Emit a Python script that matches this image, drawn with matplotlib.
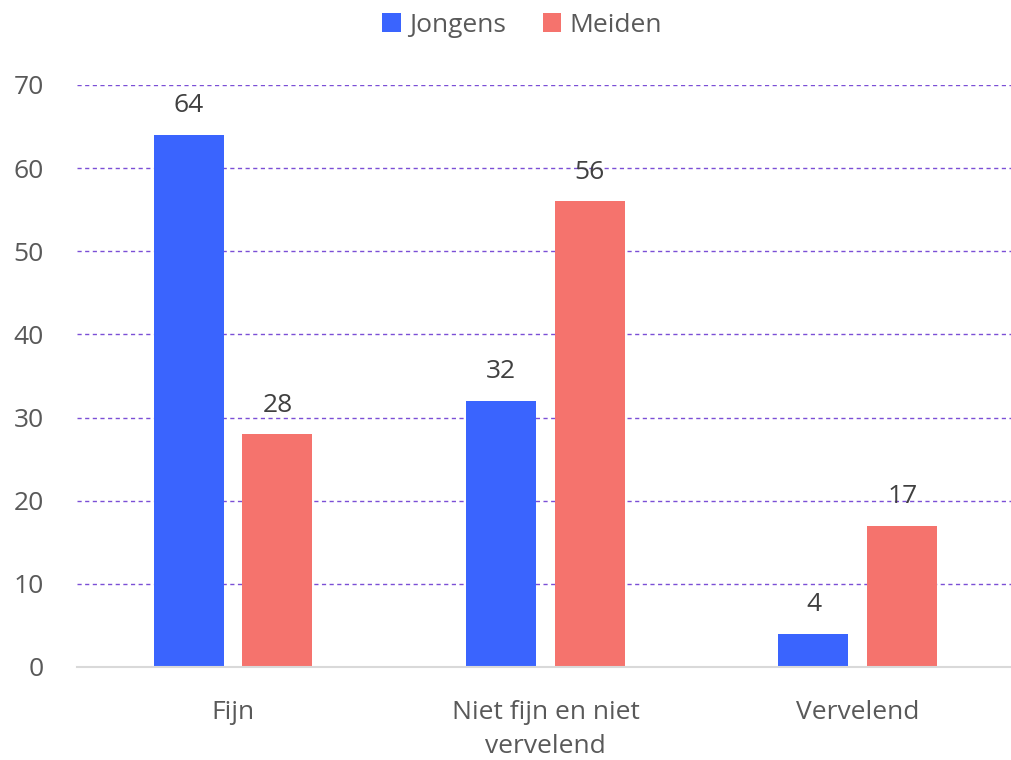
import matplotlib.pyplot as plt
import numpy as np

categories = ['Fijn', 'Niet fijn en niet\nvervelend', 'Vervelend']
jongens = [64, 32, 4]
meiden = [28, 56, 17]
yticks = [0, 10, 20, 30, 40, 50, 60, 70]

plt.rcParams['font.family'] = ['Open Sans', 'DejaVu Sans']
tc = '#595959'

fig = plt.figure(figsize=(10.12, 7.6), dpi=100)
ax = fig.add_axes([0.076, 0.1224, 0.926, 0.7658])

x = np.arange(len(categories))
w = 0.224
b1 = ax.bar(x - 0.142, jongens, w, color='#3A64FE', label='Jongens', zorder=3)
b2 = ax.bar(x + 0.142, meiden, w, color='#F5736D', label='Meiden', zorder=3)

for bars in (b1, b2):
    for r in bars:
        ax.text(r.get_x() + r.get_width() / 2, r.get_height() + 2.0, str(int(r.get_height())),
                ha='center', va='bottom', fontsize=19, color='#404040')

ax.set_xlim(-0.5, 2.5)
ax.set_ylim(0, 70)
ax.set_yticks(yticks)
ax.set_xticks(x)
ax.set_xticklabels(categories, fontsize=19, color=tc, linespacing=1.45)
ax.tick_params(axis='y', labelsize=19, labelcolor=tc, length=0, pad=24)
ax.tick_params(axis='x', length=0, pad=24)

ax.yaxis.grid(True, color='#7B4FD6', linestyle=(0, (3, 2.5)), linewidth=1.0, zorder=0)
for s in ['top', 'right', 'left']:
    ax.spines[s].set_visible(False)
ax.spines['bottom'].set_color('#D9D9D9')
ax.spines['bottom'].set_linewidth(1.5)
ax.spines['bottom'].set_zorder(4)

ax.legend(loc='upper center', bbox_to_anchor=(0.475, 1.165), ncol=2, frameon=False,
          fontsize=19, handlelength=0.7, handleheight=0.7, handletextpad=0.3,
          columnspacing=1.4, labelcolor=tc)

fig.savefig('out.png', dpi=100)
